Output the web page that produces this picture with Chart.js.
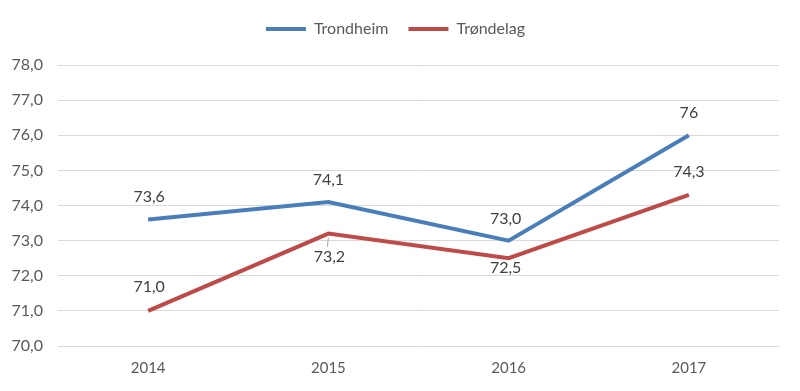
<!DOCTYPE html>
<html>
<head>
<meta charset="utf-8">
<script src="https://cdn.jsdelivr.net/npm/chart.js@4"></script>
<style>
  html, body { margin: 0; padding: 0; background: #fff; }
  #wrap { width: 800px; height: 391px; }
</style>
</head>
<body>
<div id="wrap"><canvas id="chart"></canvas></div>
<script>
const years = ['2014', '2015', '2016', '2017'];
const trondheim = [73.6, 74.1, 73.0, 76];
const trondelag = [71.0, 73.2, 72.5, 74.3];
// labels as printed in the original
const trondheimLabels = ['73,6', '74,1', '73,0', '76'];
const trondelagLabels = ['71,0', '73,2', '72,5', '74,3'];

const FONT = 'Lato, "Open Sans", sans-serif';

// small inline plugin for the value labels
const valueLabels = {
  id: 'valueLabels',
  afterDatasetsDraw(chart) {
    const ctx = chart.ctx;
    ctx.save();
    ctx.font = '16px ' + FONT;
    ctx.fillStyle = '#404040';
    ctx.textAlign = 'center';
    ctx.textBaseline = 'middle';
    chart.data.datasets.forEach((ds, i) => {
      const meta = chart.getDatasetMeta(i);
      meta.data.forEach((pt, j) => {
        const off = ds.labelOffsets[j];
        const tx = pt.x + off[0], ty = pt.y + off[1];
        if (ds.leader && ds.leader[j]) {
          ctx.strokeStyle = '#a6a6a6';
          ctx.lineWidth = 1;
          ctx.beginPath();
          ctx.moveTo(pt.x, pt.y + 4);
          ctx.lineTo(tx - 2, ty - 10);
          ctx.stroke();
        }
        ctx.fillText(ds.valueText[j], tx, ty);
      });
    });
    ctx.restore();
  }
};

// push the plot area down below the legend, like Excel does
const legendSpace = {
  id: 'legendSpace',
  beforeInit(chart) {
    const fit = chart.legend.fit;
    chart.legend.fit = function () {
      fit.bind(chart.legend)();
      this.height += 18;
    };
  }
};

new Chart(document.getElementById('chart'), {
  type: 'line',
  data: {
    labels: years,
    datasets: [
      {
        label: 'Trondheim',
        data: trondheim,
        valueText: trondheimLabels,
        labelOffsets: [[1, -23], [0, -22], [-3, -22], [0, -22]],
        borderColor: '#4a7ebb',
        backgroundColor: '#4a7ebb',
        borderWidth: 4,
        pointRadius: 0,
        tension: 0
      },
      {
        label: 'Trøndelag',
        data: trondelag,
        valueText: trondelagLabels,
        labelOffsets: [[1, -24], [1, 23], [-3, 10], [0, -23]],
        leader: [false, true, false, false],
        borderColor: '#be4b48',
        backgroundColor: '#be4b48',
        borderWidth: 4,
        pointRadius: 0,
        tension: 0
      }
    ]
  },
  options: {
    responsive: true,
    maintainAspectRatio: false,
    animation: false,
    layout: { padding: { top: 1, right: 21, left: 12, bottom: 1 } },
    plugins: {
      legend: {
        position: 'top',
        labels: {
          usePointStyle: true,
          pointStyle: 'line',
          pointStyleWidth: 40,
          boxHeight: 4,
          padding: 20,
          color: '#595959',
          font: { family: FONT, size: 16 }
        }
      },
      tooltip: { enabled: false }
    },
    scales: {
      x: {
        offset: true,
        grid: { display: false, drawTicks: false },
        border: { display: false },
        ticks: {
          color: '#595959',
          padding: 13,
          font: { family: FONT, size: 15 }
        }
      },
      y: {
        min: 70,
        max: 78,
        border: { display: false },
        grid: { color: '#d9d9d9', lineWidth: 1, drawTicks: false },
        afterFit: s => { s.width = 46; },
        ticks: {
          stepSize: 1,
          padding: 15,
          color: '#595959',
          font: { family: FONT, size: 16 },
          callback: v => v.toFixed(1).replace('.', ',')
        }
      }
    }
  },
  plugins: [valueLabels, legendSpace]
});
</script>
</body>
</html>
